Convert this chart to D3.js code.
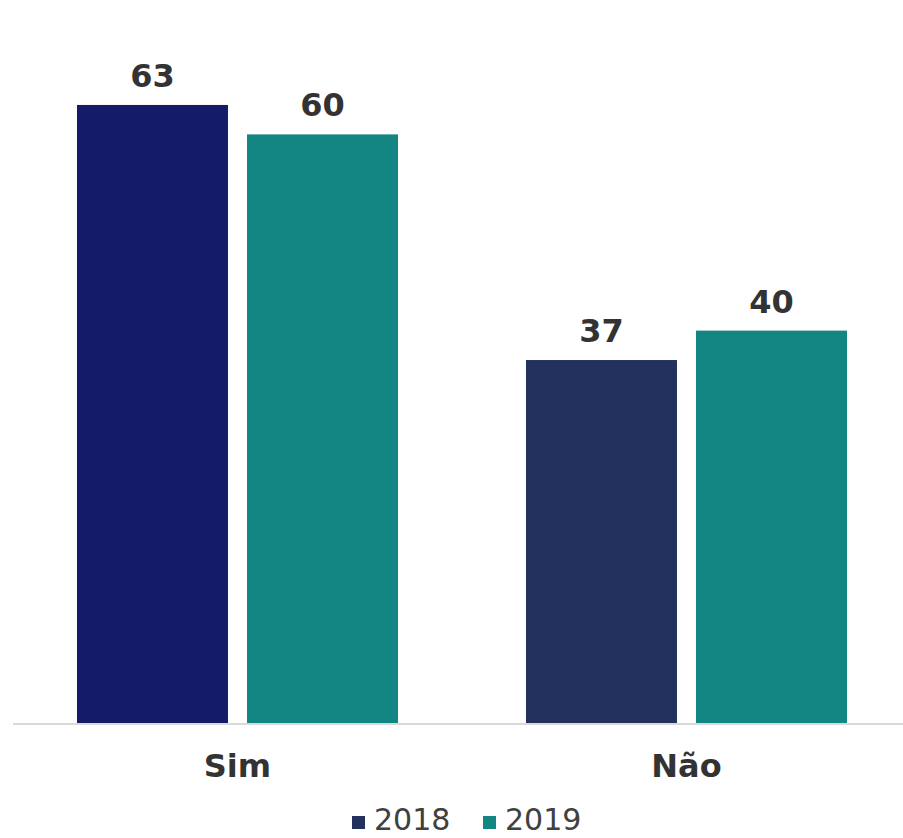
<!DOCTYPE html>
<html>
<head>
<meta charset="utf-8">
<script src="https://cdn.jsdelivr.net/npm/d3@7"></script>
<style>
  body { margin: 0; background: #fff; }
  text { font-family: "DejaVu Sans", Verdana, sans-serif; }
</style>
</head>
<body>
<div id="chart"></div>
<script>
// Chart data
var categories = ["Sim", "Não"];
var years = ["2018", "2019"];
var values2018 = [63, 37];
var values2019 = [60, 40];

var svgWidth = 903;
var svgHeight = 838;
var baseline = 723;

var colors2018 = ["#141b69", "#22315e"];
var color2019 = "#138583";
var legendColors = ["#22315e", "#138583"];

var rows = categories.map(function(c, i) {
  return { cat: c, vals: [values2018[i], values2019[i]] };
});

var svg = d3.select("#chart")
  .append("svg")
    .attr("width", svgWidth)
    .attr("height", svgHeight);

var x0 = d3.scaleBand()
  .domain(categories)
  .range([17, 907])
  .paddingInner(0.285)
  .paddingOuter(0.1336);

var x1 = d3.scaleBand()
  .domain(years)
  .range([0, x0.bandwidth()])
  .paddingInner(0.112);

var y = d3.scaleLinear()
  .domain([0, 70])
  .range([baseline, baseline - 9.81 * 70]);

// baseline axis line
svg.append("line")
  .attr("x1", 13)
  .attr("x2", 903)
  .attr("y1", baseline + 1)
  .attr("y2", baseline + 1)
  .attr("stroke", "#d9d9d9")
  .attr("stroke-width", 2);

var groups = svg.selectAll(".grp")
  .data(rows)
  .enter()
  .append("g")
  .attr("class", "grp")
  .attr("transform", d => `translate(${x0(d.cat)},0)`);

groups.selectAll("rect")
  .data((d, i) => d.vals.map((v, j) => ({ v: v, year: years[j], ci: i })))
  .enter()
  .append("rect")
  .attr("x", d => x1(d.year))
  .attr("y", d => y(d.v))
  .attr("width", x1.bandwidth())
  .attr("height", d => baseline - y(d.v))
  .attr("fill", d => d.year === "2018" ? colors2018[d.ci] : color2019);

groups.selectAll(".val")
  .data(d => d.vals.map((v, j) => ({ v: v, year: years[j] })))
  .enter()
  .append("text")
  .attr("class", "val")
  .attr("x", d => x1(d.year) + x1.bandwidth() / 2)
  .attr("y", d => y(d.v) - 18)
  .attr("text-anchor", "middle")
  .style("font-size", "32px")
  .style("font-weight", "bold")
  .attr("fill", "#333333")
  .text(d => d.v);

// category labels
svg.selectAll(".cat")
  .data(categories)
  .enter()
  .append("text")
  .attr("class", "cat")
  .attr("x", d => x0(d) + x0.bandwidth() / 2)
  .attr("y", 777)
  .attr("text-anchor", "middle")
  .style("font-size", "32px")
  .style("font-weight", "bold")
  .attr("fill", "#333333")
  .text(d => d);

// legend
var legendX = [352, 483];
var legend = svg.selectAll(".leg")
  .data(years)
  .enter()
  .append("g")
  .attr("class", "leg")
  .attr("transform", (d, i) => `translate(${legendX[i]},0)`);

legend.append("rect")
  .attr("x", 0)
  .attr("y", 816)
  .attr("width", 13)
  .attr("height", 13)
  .attr("fill", (d, i) => legendColors[i]);

legend.append("text")
  .attr("x", 22)
  .attr("y", 830)
  .style("font-size", "30px")
  .attr("fill", "#404040")
  .text(d => d);
</script>
</body>
</html>
